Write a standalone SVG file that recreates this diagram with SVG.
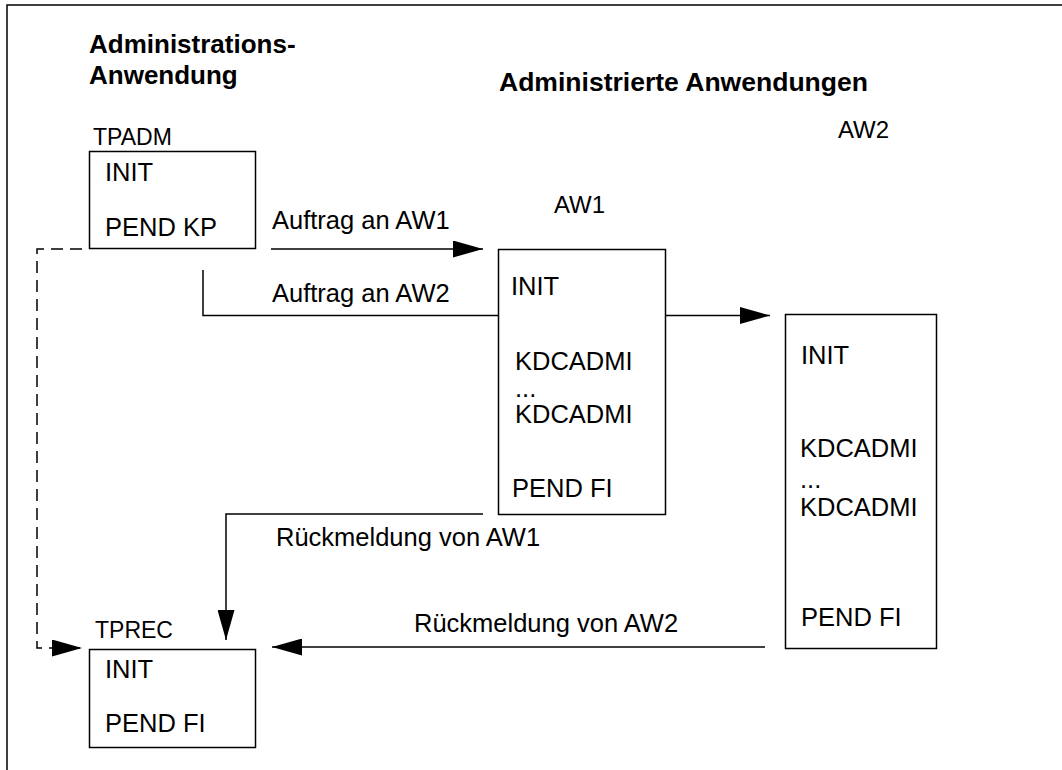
<svg xmlns="http://www.w3.org/2000/svg" width="1062" height="770" viewBox="0 0 1062 770">
<style>
text{font-family:"Liberation Sans",Arial,sans-serif;fill:#000}
.t{font-size:25.5px}
.s{font-size:23px}
.a{font-size:24px}
.h{font-size:26px;font-weight:bold}
.box{fill:#fff;stroke:#000;stroke-width:1.5}
.c{fill:none;stroke:#000;stroke-width:1.5}
.d{fill:none;stroke:#000;stroke-width:1.5;stroke-dasharray:12 7}
</style>
<defs>
<marker id="arr" markerUnits="userSpaceOnUse" markerWidth="30" markerHeight="17" viewBox="0 0 30 17" refX="30" refY="8.5" orient="auto">
<path d="M0,0 L30,8.5 L0,17 z" fill="#000"/>
</marker>
</defs>
<rect width="1062" height="770" fill="#fff"/>
<g id="frame" class="c"><path d="M7,770 V5 H1062"/></g>
<g id="titles">
<text class="h" x="89" y="53">Administrations-</text>
<text class="h" x="89" y="84">Anwendung</text>
<text class="h" x="499" y="91" style="font-size:25px" textLength="369" lengthAdjust="spacingAndGlyphs">Administrierte Anwendungen</text>
</g>
<g id="connectors">
<path class="c" d="M271,249 H483" marker-end="url(#arr)"/>
<path class="c" d="M203,270 V315.5 H498"/>
<path class="c" d="M665,315.5 H770" marker-end="url(#arr)"/>
<path class="c" d="M483,514 H226 V640" marker-end="url(#arr)"/>
<path class="c" d="M765,647 H272" marker-end="url(#arr)"/>
<path class="d" d="M82,249 H37 V648 H82" marker-end="url(#arr)"/>
<text class="t" x="272" y="229">Auftrag an AW1</text>
<text class="t" x="272" y="302">Auftrag an AW2</text>
<text class="t" x="276" y="546">Rückmeldung von AW1</text>
<text class="t" x="414" y="632">Rückmeldung von AW2</text>
</g>
<g id="tpadm">
<text class="s" x="93" y="145">TPADM</text>
<rect class="box" x="89.5" y="151.5" width="166" height="97"/>
<text class="t" x="105" y="181">INIT</text>
<text class="t" x="105" y="236">PEND KP</text>
</g>
<g id="aw1">
<text class="a" x="554" y="213">AW1</text>
<rect class="box" x="498.5" y="249.5" width="167" height="265"/>
<text class="t" x="511" y="295">INIT</text>
<text class="t" x="515" y="370">KDCADMI</text>
<text class="t" x="515" y="397">...</text>
<text class="t" x="515" y="423">KDCADMI</text>
<text class="t" x="512" y="497">PEND FI</text>
</g>
<g id="aw2">
<text class="a" x="838" y="138">AW2</text>
<rect class="box" x="785.5" y="314.5" width="151" height="334"/>
<text class="t" x="801" y="364">INIT</text>
<text class="t" x="800" y="457">KDCADMI</text>
<text class="t" x="800" y="488">...</text>
<text class="t" x="800" y="516">KDCADMI</text>
<text class="t" x="801" y="626">PEND FI</text>
</g>
<g id="tprec">
<text class="s" x="95" y="638">TPREC</text>
<rect class="box" x="89.5" y="649.5" width="166" height="98"/>
<text class="t" x="105" y="678">INIT</text>
<text class="t" x="105" y="732">PEND FI</text>
</g>
</svg>
